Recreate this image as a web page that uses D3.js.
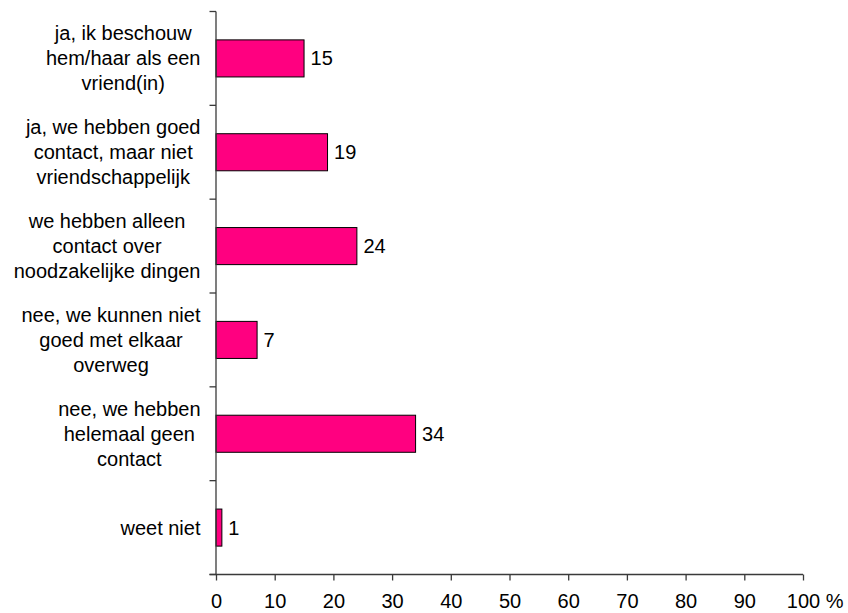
<!DOCTYPE html>
<html>
<head>
<meta charset="utf-8">
<script src="https://cdn.jsdelivr.net/npm/d3@7"></script>
<style>
  html, body { margin: 0; padding: 0; background: #fff; }
  svg { display: block; }
  text { font-family: "Liberation Sans", Arial, Helvetica, sans-serif; fill: #000; }
</style>
</head>
<body>
<svg id="chart" width="848" height="613"></svg>
<script>
// Data
const categories = [
  "ja, ik beschouw|hem/haar als een|vriend(in)",
  "ja, we hebben goed|contact, maar niet|vriendschappelijk",
  "we hebben alleen|contact over|noodzakelijke dingen",
  "nee, we kunnen niet|goed met elkaar|overweg",
  "nee, we hebben|helemaal geen|contact",
  "weet niet"
];
const values = [15, 19, 24, 7, 34, 1];
const xTicks = [0, 10, 20, 30, 40, 50, 60, 70, 80, 90, 100];
const unitLabel = "%";

const svg = d3.select("#chart");
const fontSize = 20;
const lineH = 25;

const x = d3.scaleLinear().domain([0, 100]).range([216, 803]);
const y = d3.scaleBand().domain(categories).range([11.5, 574.5])
  .paddingInner(0.605).paddingOuter(0.3025);

const axisColor = "#3a3a3a";

// bars
svg.selectAll("rect.bar").data(values).enter().append("rect")
  .attr("class", "bar")
  .attr("x", x(0))
  .attr("y", (d, i) => y(categories[i]))
  .attr("width", d => x(d) - x(0))
  .attr("height", y.bandwidth())
  .attr("fill", "#ff0080")
  .attr("stroke", "#000")
  .attr("stroke-width", 1);

// value labels
svg.selectAll("text.val").data(values).enter().append("text")
  .attr("class", "val")
  .attr("x", d => x(d) + 6.5)
  .attr("y", (d, i) => y(categories[i]) + y.bandwidth() / 2)
  .attr("dominant-baseline", "central")
  .attr("font-size", fontSize)
  .text(d => d);

// y axis line
const y0 = y.range()[0], y1 = y.range()[1];
svg.append("line")
  .attr("x1", x(0)).attr("x2", x(0))
  .attr("y1", y0).attr("y2", y1)
  .attr("stroke", axisColor).attr("stroke-width", 1.3);

// category boundary ticks
const bounds = d3.range(categories.length + 1).map(i => y0 + i * y.step());
svg.selectAll("line.ctick").data(bounds).enter().append("line")
  .attr("class", "ctick")
  .attr("x1", x(0) - 6.5).attr("x2", x(0))
  .attr("y1", d => d).attr("y2", d => d)
  .attr("stroke", axisColor).attr("stroke-width", 1.3);

// x axis
const xAxis = d3.axisBottom(x).tickValues(xTicks).tickSize(6).tickPadding(13).tickFormat(d3.format("d"));
const gx = svg.append("g").attr("transform", `translate(0,${y1})`).call(xAxis);
gx.select(".domain").attr("stroke", axisColor).attr("stroke-width", 1.3)
  .attr("d", `M${x(0) - 6.5},0H${x(100)}`);
gx.selectAll(".tick line").attr("stroke", axisColor).attr("stroke-width", 1.3);
gx.selectAll(".tick text")
  .attr("font-size", fontSize)
  .attr("font-family", '"Liberation Sans", Arial, sans-serif')
  .attr("fill", "#000");

// unit label after last tick
const lastTxt = gx.selectAll(".tick text").filter(d => d === 100);
const w100 = lastTxt.node().getComputedTextLength();
gx.append("text")
  .attr("x", x(100) + w100 / 2 + 6)
  .attr("y", 19)
  .attr("dy", "0.71em")
  .attr("font-size", fontSize)
  .attr("text-anchor", "start")
  .text(unitLabel);

// category labels: block right-aligned, lines centered within block
const rightEdge = 200.5;
categories.forEach((c) => {
  const lines = c.split("|");
  const g = svg.append("g");
  const texts = lines.map((ln, j) => g.append("text")
    .attr("font-size", fontSize)
    .attr("text-anchor", "middle")
    .attr("dominant-baseline", "central")
    .attr("y", y(c) + y.bandwidth() / 2 + (j - (lines.length - 1) / 2) * lineH)
    .text(ln));
  const maxW = d3.max(texts, t => t.node().getComputedTextLength());
  texts.forEach(t => t.attr("x", rightEdge - maxW / 2));
});
</script>
</body>
</html>
